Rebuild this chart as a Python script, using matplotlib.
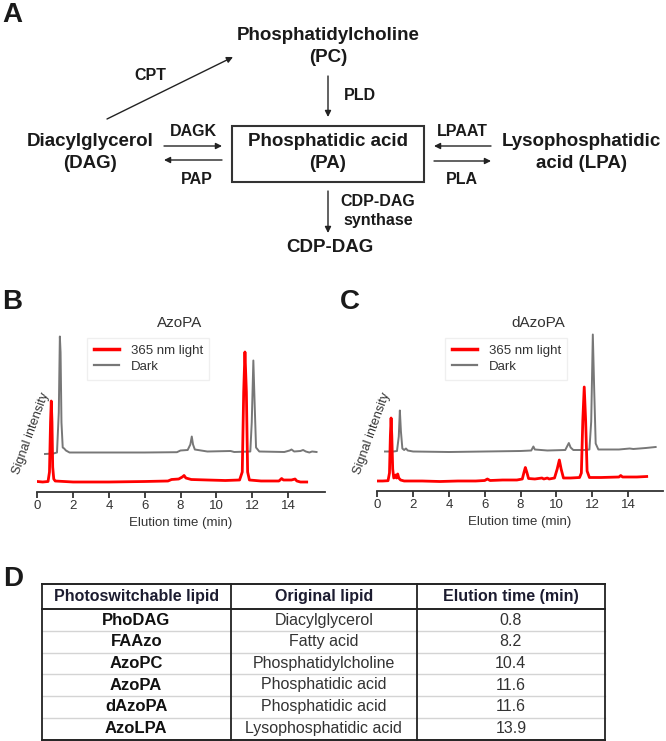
import numpy as np
import matplotlib
matplotlib.use('Agg')
import matplotlib.pyplot as plt
from matplotlib.patches import Rectangle
from matplotlib.lines import Line2D

plt.rcParams['font.family'] = ['Liberation Sans', 'DejaVu Sans']

W, H = 666, 741
F_MAIN = 13.5   # pathway metabolite names
F_ENZ = 11.5    # enzyme names
F_PANEL = 20

# ---- panel B / C chromatograms (signal above each trace baseline, a.u.) ----
azopa_light_t = [0.0, 0.3, 0.6, 0.68, 0.74, 0.78, 0.82, 0.86, 0.92, 1.0, 2.0, 4.0, 6.0, 7.3, 7.5,
                 7.9, 8.1, 8.2, 8.3, 8.6, 9.5, 10.5, 11.3, 11.45, 11.53, 11.6, 11.68, 11.75, 11.85,
                 12.5, 13.5, 13.65, 13.75, 14.2, 14.4, 14.5, 14.7, 15.05]
azopa_light_y = [0.5, 0.0, 0.5, 10, 60, 81, 60, 15, 3, 1, 0, 0, 0.5, 1, 2.5,
                 3, 5, 6.5, 4, 2.5, 2, 1.5, 2, 10, 90, 130, 90, 10, 2,
                 1, 1, 3.5, 2, 2, 3, 1, 0, 0]

azopa_dark_t = [0.43, 0.9, 1.1, 1.2, 1.26, 1.3, 1.35, 1.42, 1.5, 1.6, 1.8, 3.0, 6.0, 7.8, 8.0,
                8.4, 8.55, 8.63, 8.7, 8.8, 9.5, 10.8, 11.0, 11.9, 11.98, 12.07, 12.14, 12.22,
                12.4, 13.8, 14.1, 14.2, 14.35, 14.7, 14.85, 15.0, 15.2, 15.35, 15.6]
azopa_dark_y = [-1.5, -1, 0, 40, 116, 100, 30, 5, 4, 2, 0, 0, 0, 0.3, 2,
                2.5, 8, 16, 8, 3, 1, 1.5, 0.5, 1, 30, 92, 50, 5,
                1, 0.5, 2, 3, 1, 1.5, 2.5, 1, 0, 1, 0.5]

dazopa_light_t = [0.0, 0.3, 0.6, 0.68, 0.73, 0.77, 0.81, 0.86, 0.92, 0.98, 1.03, 1.08, 1.14, 1.2,
                  1.3, 1.5, 2.5, 3.5, 4.5, 5.5, 6.0, 6.15, 6.3, 7.0, 7.8, 8.1, 8.2, 8.27, 8.35,
                  8.45, 8.8, 9.2, 9.3, 9.5, 9.6, 9.9, 10.05, 10.17, 10.27, 10.4, 10.8, 11.3,
                  11.4, 11.48, 11.56, 11.64, 11.72, 11.85, 12.5, 13.5, 13.6, 13.7, 14.5, 15.05]
dazopa_light_y = [0.0, 0.0, 0.3, 8, 45, 63, 45, 12, 3, 4, 6, 3, 7, 3,
                  1, 0, 0, -0.5, 0, 0, 0.5, 2, 0.5, 1, 1, 2, 9, 13.5, 9,
                  2.5, 2, 3, 2, 3, 2, 3, 12, 21, 12, 3, 3, 3.5,
                  8, 60, 94, 60, 10, 3.5, 3.5, 4, 5.5, 4, 4, 4.5]

dazopa_dark_t = [0.43, 0.9, 1.1, 1.2, 1.26, 1.32, 1.4, 1.5, 1.6, 1.7, 2.0, 4.0, 6.0, 8.0, 8.6,
                 8.72, 8.8, 9.5, 10.5, 10.6, 10.7, 10.8, 10.95, 11.6, 11.85, 11.95, 12.04, 12.12,
                 12.2, 12.35, 13.5, 14.1, 14.3, 15.0, 15.55]
dazopa_dark_y = [0, 0, 0.5, 15, 41, 20, 3, 1.5, 3, 1, 0, -0.5, 0, 0.5, 1,
                 5, 2, 1, 1.5, 5, 8.5, 4, 1.5, 1.5, 2, 30, 117, 60,
                 8, 2, 2, 3, 2.5, 3.5, 4.5]

x_ticks = [0, 2, 4, 6, 8, 10, 12, 14]
legend_labels = ["365 nm light", "Dark"]

# ---- panel D table ----
tab_header = ["Photoswitchable lipid", "Original lipid", "Elution time (min)"]
tab_probe = ["PhoDAG", "FAAzo", "AzoPC", "AzoPA", "dAzoPA", "AzoLPA"]
tab_lipid = ["Diacylglycerol", "Fatty acid", "Phosphatidylcholine", "Phosphatidic acid",
             "Phosphatidic acid", "Lysophosphatidic acid"]
tab_time = [0.8, 8.2, 10.4, 11.6, 11.6, 13.9]

fig = plt.figure(figsize=(W / 100, H / 100), dpi=100)

# overlay axes in pixel coordinates for pathway, labels and table
ov = fig.add_axes([0, 0, 1, 1])
ov.set_xlim(0, W)
ov.set_ylim(H, 0)
ov.axis('off')
ov.patch.set_alpha(0)

TXT = '#1a1a1a'
def t(x, y, s, size, **kw):
	kw.setdefault('weight', 'bold')
	kw.setdefault('color', TXT)
	ov.text(x, y, s, fontsize=size, ha=kw.pop('ha', 'center'), va='center', **kw)

def arr(x0, y0, x1, y1):
	ov.annotate('', xy=(x1, y1), xytext=(x0, y0),
		arrowprops=dict(arrowstyle='-|>', lw=1.0, color='#222222', mutation_scale=9,
						shrinkA=0, shrinkB=0))

# panel letters
t(12, 15, 'A', F_PANEL)
t(12, 302, 'B', F_PANEL)
t(350, 302, 'C', F_PANEL)
t(13, 579, 'D', F_PANEL)

# ---- panel A pathway ----
t(328, 35, 'Phosphatidylcholine', F_MAIN)
t(328, 58, '(PC)', F_MAIN)
t(328, 142, 'Phosphatidic acid', F_MAIN)
t(328, 163, '(PA)', F_MAIN)
t(90, 142, 'Diacylglycerol', F_MAIN)
t(90, 163, '(DAG)', F_MAIN)
t(581, 142, 'Lysophosphatidic', F_MAIN)
t(581, 163, 'acid (LPA)', F_MAIN)
t(330, 248, 'CDP-DAG', F_MAIN)

t(150, 75, 'CPT', F_ENZ)
t(344, 96, 'PLD', F_ENZ, ha='left')
t(193, 131, 'DAGK', F_ENZ)
t(197, 179, 'PAP', F_ENZ)
t(462, 131, 'LPAAT', F_ENZ)
t(462, 179, 'PLA', F_ENZ)
t(378, 202, 'CDP-DAG', F_ENZ)
t(378, 221, 'synthase', F_ENZ)

ov.add_patch(Rectangle((232, 126), 192, 56, fill=False, lw=1.5, edgecolor='#333333'))
arr(107, 119, 233, 57)
arr(328, 76, 328, 117)
arr(164, 146, 222, 146)
arr(222, 160, 164, 160)
arr(491, 146, 434, 146)
arr(434, 161, 491, 161)
arr(328, 191, 328, 233)

# ---- panels B and C ----
PX_MIN = 17.9
RED_OFF = 10
DARK_OFF = 39.5
GREY = '#333333'

def chrom(left, bottom, xmax, light_t, light_y, dark_t, dark_y, title, title_x, sig_x):
	ax = fig.add_axes([left / W, 1 - bottom / H, xmax * PX_MIN / W, 165 / H])
	ax.plot(dark_t, np.array(dark_y) + DARK_OFF, color='#777777', lw=1.4, label='Dark')
	ax.plot(light_t, np.array(light_y) + RED_OFF, color='#ff0000', lw=2.0, label='365 nm light')
	ax.set_xlim(0, xmax)
	ax.set_ylim(0, 165)
	for s in ['left', 'top', 'right']:
		ax.spines[s].set_visible(False)
	ax.spines['bottom'].set_color(GREY)
	ax.spines['bottom'].set_linewidth(1.3)
	ax.set_yticks([])
	ax.set_xticks(x_ticks)
	ax.tick_params(axis='x', direction='out', length=4, width=1.3, color=GREY,
				   labelsize=9.5, labelcolor=GREY, pad=1.5)
	ax.set_xlabel('Elution time (min)', fontsize=9.5, color=GREY, labelpad=4)
	ax.patch.set_alpha(0)
	fig.text(title_x / W, 1 - 323 / H, title, fontsize=11, color=GREY, ha='center', va='center')
	fig.text(sig_x / W, 1 - 433 / H, 'Signal intensity', fontsize=9.2, color=GREY,
			 ha='center', va='center', rotation=70)
	h = [Line2D([], [], color='#ff0000', lw=2.5), Line2D([], [], color='#777777', lw=1.6)]
	leg = ax.legend(h, legend_labels, loc='upper left',
					bbox_to_anchor=((title_x - 93) / W, 1 - 338 / H),
					bbox_transform=fig.transFigure, fontsize=9.5, frameon=True,
					fancybox=False, edgecolor='#ececec', handlelength=1.9,
					handletextpad=0.9, labelspacing=0.3, borderpad=0.5, borderaxespad=0)
	for tx in leg.get_texts():
		tx.set_color(GREY)
	return ax

chrom(37.3, 492, 16.05, azopa_light_t, azopa_light_y, azopa_dark_t, azopa_dark_y,
	  'AzoPA', 180, 31)
chrom(377.3, 491, 15.95, dazopa_light_t, dazopa_light_y, dazopa_dark_t, dazopa_dark_y,
	  'dAzoPA', 538, 372)

# ---- panel D table ----
col_x = [41.7, 230.7, 417, 604.7]
row_y = [584, 609.3, 631, 652.7, 674, 696, 717.7, 740]
NARROW = ['Liberation Sans Narrow', 'Liberation Sans']

for y in row_y[2:-1]:
	ov.plot([col_x[0], col_x[-1]], [y, y], color='#d4d4d4', lw=1.0)
for y in [row_y[0], row_y[1], row_y[-1]]:
	ov.plot([col_x[0], col_x[-1]], [y, y], color='#222222', lw=1.4)
for x in col_x:
	ov.plot([x, x], [row_y[0], row_y[-1]], color='#222222', lw=1.3)

cx = [(col_x[i] + col_x[i + 1]) / 2 for i in range(3)]
hy = (row_y[0] + row_y[1]) / 2
for i, s in enumerate(tab_header):
	t(cx[i], hy, s, 11.5, family=NARROW, color='#1c1c30')
for r in range(len(tab_probe)):
	yy = (row_y[r + 1] + row_y[r + 2]) / 2
	t(cx[0], yy, tab_probe[r], 12, color='#111111')
	t(cx[1], yy, tab_lipid[r], 11.5, weight='normal', family=NARROW, color='#333333')
	t(cx[2], yy, '%.1f' % tab_time[r], 11.5, weight='normal', family=NARROW, color='#333333')

plt.savefig('out.png', dpi=100)
